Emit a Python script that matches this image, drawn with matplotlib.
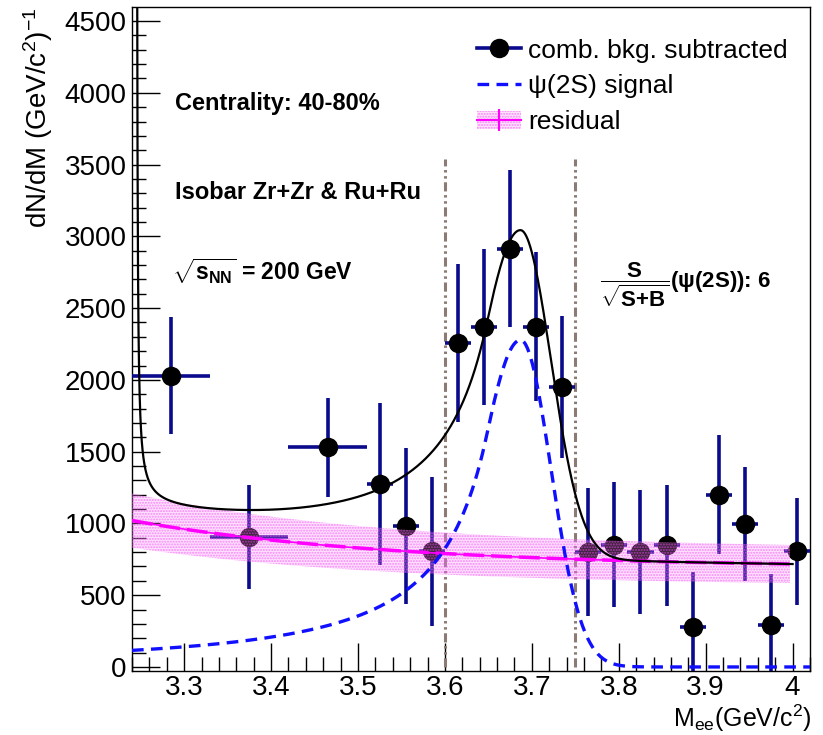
import numpy as np
import matplotlib.pyplot as plt
from matplotlib.lines import Line2D
from matplotlib.patches import Patch

plt.rcParams['font.family'] = ['Liberation Sans', 'DejaVu Sans']
plt.rcParams['mathtext.fontset'] = 'custom'
plt.rcParams['mathtext.rm'] = 'Liberation Sans'
plt.rcParams['mathtext.it'] = 'Liberation Sans:italic'
plt.rcParams['mathtext.bf'] = 'Liberation Sans:bold'

# comb. bkg. subtracted spectrum (wide bins at low mass, 30 MeV above 3.51)
bin_edges = [3.24, 3.33, 3.42, 3.51, 3.54, 3.57, 3.60, 3.63, 3.66, 3.69, 3.72,
             3.75, 3.78, 3.81, 3.84, 3.87, 3.90, 3.93, 3.96, 3.99, 4.02]
counts = [2030, 905, 1530, 1275, 982, 805, 2255, 2370, 2915, 2370, 1950,
          800, 852, 800, 848, 280, 1200, 995, 295, 805]
errors = [406, 365, 347, 562, 540, 520, 550, 545, 550, 520, 497,
          445, 434, 430, 420, 382, 413, 396, 354, 372]

# psi(2S) signal fit (Crystal Ball, asymmetric width)
sig_norm = 2278
sig_mu = 3.687
sig_sigma_lo = 0.047
sig_sigma_hi = 0.035
sig_alpha = 0.83
sig_n = 1.5

# residual fit: constant + exponential, with relative uncertainty band
res_const = 691
res_amp = 329
res_tau = 0.30
res_rel_err = 0.185

# J/psi tail entering the low-mass edge
tail_amp = 3.0
tail_m0 = 3.2452
tail_lambda = 0.10

mass_window = [3.60, 3.75]


def crystal_ball(m):
    t = np.where(m < sig_mu, (m - sig_mu) / sig_sigma_lo, (m - sig_mu) / sig_sigma_hi)
    A = (sig_n / sig_alpha) ** sig_n * np.exp(-sig_alpha ** 2 / 2)
    B = sig_n / sig_alpha - sig_alpha
    out = np.exp(-t ** 2 / 2)
    low = t < -sig_alpha
    out[low] = A * (B - t[low]) ** (-sig_n)
    return sig_norm * out


def residual(m):
    return res_const + res_amp * np.exp(-(m - 3.24) / res_tau)


def low_tail(m):
    return tail_amp * np.exp(-(m - 3.24) / tail_lambda) / (m - tail_m0)


edges = np.array(bin_edges)
centers = 0.5 * (edges[1:] + edges[:-1])
half_w = 0.5 * (edges[1:] - edges[:-1])

m_sig = np.linspace(3.24, 4.02, 800)
m_fit = np.linspace(3.2454, 4.0, 4000)
m_res = np.linspace(3.24, 3.997, 400)

fig = plt.figure(figsize=(8.23, 7.35), dpi=100)
ax = fig.add_axes([0.1604, 0.0871, 0.8238, 0.9038])

# data points
ax.errorbar(centers, counts, xerr=half_w, yerr=errors, fmt='o', color='#0a0a8c',
            mfc='black', mec='black', ms=13, elinewidth=2.6, capsize=0, zorder=3)

# residual band and line
band_face = (1.0, 0.55, 1.0, 0.25)
band_hatch = (0.95, 0.3, 0.95, 0.6)
res = residual(m_res)
ax.fill_between(m_res, res * (1 - res_rel_err), res * (1 + res_rel_err),
                facecolor=band_face, edgecolor=band_hatch,
                hatch='......', linewidth=0, zorder=4)
ax.plot(m_res, res, color='magenta', lw=1.2, zorder=5)
ax.plot(m_res, res, color='magenta', lw=2.5, ls=(0, (6, 2)), zorder=5)

# signal and total fit
ax.plot(m_sig, crystal_ball(m_sig), color='#1010ff', lw=2.4, ls=(0, (3.5, 2.2)), zorder=6)
total = residual(m_fit) + crystal_ball(m_fit) + low_tail(m_fit)
ax.plot(m_fit, total, color='black', lw=1.6, zorder=6)

# mass window
for xw in mass_window:
    ax.plot([xw, xw], [0, 3540], color='#8c7b74', lw=2.2,
            ls=(0, (3, 1.2, 0.8, 1.2, 0.8, 1.2)), zorder=2)

ax.set_xlim(3.24, 4.02)
ax.set_ylim(-28, 4600)
ax.set_xticks([3.3, 3.4, 3.5, 3.6, 3.7, 3.8, 3.9, 4.0])
ax.set_xticklabels(['3.3', '3.4', '3.5', '3.6', '3.7', '3.8', '3.9', '4'])
ax.set_xticks(np.arange(3.24, 4.021, 0.02), minor=True)
ax.set_yticks(np.arange(0, 4501, 500))
ax.set_yticks(np.arange(0, 4600, 100), minor=True)
ax.tick_params(axis='both', which='major', direction='in', length=20, width=1.0,
               labelsize=20, top=False, right=False)
ax.tick_params(axis='both', which='minor', direction='in', length=10, width=1.0,
               top=False, right=False)
ax.tick_params(axis='x', pad=3)
ax.tick_params(axis='y', pad=4)
for s in ax.spines.values():
    s.set_linewidth(1.0)

ax.set_ylabel(r'dN/dM (GeV/c$^{2}$)$^{-1}$', fontsize=20, loc='top')
ax.yaxis.set_label_coords(-0.113, 0.998)
fig.text(0.986, 0.002, r'M$_{\rm ee}$(GeV/c$^{2}$)', ha='right', va='bottom', fontsize=18)

ax.text(0.063, 0.855, 'Centrality: 40-80%', transform=ax.transAxes,
        fontsize=17, fontweight='bold', va='center')
ax.text(0.063, 0.721, 'Isobar Zr+Zr & Ru+Ru', transform=ax.transAxes,
        fontsize=17, fontweight='bold', va='center')
ax.text(0.059, 0.601, r'$\sqrt{\mathbf{s}_{\mathbf{NN}}}$' + ' = 200 GeV', transform=ax.transAxes,
        fontsize=16.5, fontweight='bold', va='center')
ax.text(0.690, 0.581, r'$\dfrac{\mathbf{S}}{\sqrt{\mathbf{S{+}B}}}$' + '(ψ(2S)): 6',
        transform=ax.transAxes, fontsize=16, fontweight='bold', va='center')

handles = [
    Line2D([], [], color='#0a0a8c', lw=2.6, marker='o', mfc='black', mec='black', ms=13),
    Line2D([], [], color='#1010ff', lw=2.4, ls=(0, (3.5, 2.2))),
    (Patch(facecolor=band_face, edgecolor=band_hatch, hatch='......', linewidth=0),
     Line2D([], [], color='magenta', lw=1.5, marker='|', ms=16, mew=1.5)),
]
labels = ['comb. bkg. subtracted', 'ψ(2S) signal', 'residual']
ax.legend(handles, labels, loc='upper left', bbox_to_anchor=(0.494, 0.968),
          frameon=False, fontsize=19, handlelength=1.63, handletextpad=0.3,
          labelspacing=0.45, borderaxespad=0)

fig.savefig('out.png', dpi=100)
